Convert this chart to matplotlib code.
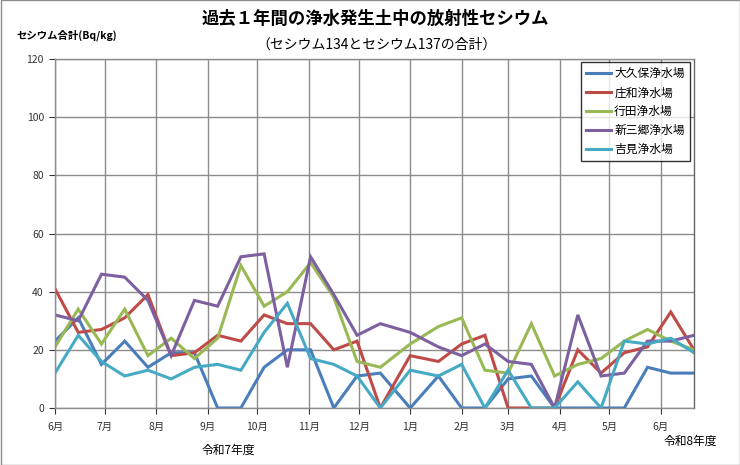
import matplotlib
matplotlib.use("Agg")
import matplotlib.pyplot as plt
import matplotlib.dates as mdates
from matplotlib.patches import Rectangle
import numpy as np
import pandas as pd

plt.rcParams['font.family'] = ['Noto Sans CJK JP', 'DejaVu Sans']

# sampling dates (every ~2 weeks)
dates = pd.to_datetime([
    "2025-06-01", "2025-06-15", "2025-06-29", "2025-07-13", "2025-07-27",
    "2025-08-10", "2025-08-24", "2025-09-07", "2025-09-21", "2025-10-05",
    "2025-10-19", "2025-11-02", "2025-11-16", "2025-11-30", "2025-12-14",
    "2026-01-01", "2026-01-18", "2026-02-01", "2026-02-15", "2026-03-01",
    "2026-03-15", "2026-03-29", "2026-04-12", "2026-04-26", "2026-05-10",
    "2026-05-24", "2026-06-07", "2026-06-21",
])

okubo = [23, 31, 15, 23, 14, 19, 19, 0, 0, 14, 20, 20, 0, 11,
         12, 0, 11, 0, 0, 10, 11, 0, 0, 0, 0, 14, 12, 12]
showa = [41, 26, 27, 31, 39, 18, 19, 25, 23, 32, 29, 29, 20, 23,
         0, 18, 16, 22, 25, 0, 0, 0, 20, 12, 19, 21, 33, 20]
gyoda = [21, 34, 22, 34, 18, 24, 17, 24, 49, 35, 40, 50, 38, 16,
         14, 22, 28, 31, 13, 12, 29, 11, 15, 17, 23, 27, 23, 20]
shinmisato = [32, 30, 46, 45, 37, 18, 37, 35, 52, 53, 14, 52, 39, 25,
              29, 26, 21, 18, 22, 16, 15, 0, 32, 11, 12, 23, 23, 25]
yoshimi = [12, 25, 16, 11, 13, 10, 14, 15, 13, 26, 36, 17, 15, 11,
           0, 13, 11, 15, 0, 13, 0, 0, 9, 0, 23, 22, 24, 19]

names = ["大久保浄水場", "庄和浄水場", "行田浄水場", "新三郷浄水場", "吉見浄水場"]
series = [okubo, showa, gyoda, shinmisato, yoshimi]
colors = ["#4A7EBB", "#BE4B48", "#98B954", "#7D60A0", "#46AAC5"]

month_ticks = pd.date_range("2025-06-01", "2026-06-01", freq="MS")
month_labels = [f"{d.month}月" for d in month_ticks]

fig = plt.figure(figsize=(7.4, 4.65), dpi=100)
ax = fig.add_axes([55/740, 1 - 408/465, (694-55)/740, (408-59)/465])

for vals, name, c in zip(series, names, colors):
    ax.plot(dates, vals, color=c, lw=2.2, label=name, solid_joinstyle="miter")

ax.set_xlim(dates[0], dates[-1])
ax.set_ylim(0, 120)
ax.set_yticks(np.arange(0, 121, 20))
ax.set_xticks(month_ticks)
ax.set_xticklabels(month_labels)
ax.tick_params(axis="both", labelsize=7.5, colors="#333333", length=4, width=0.8)
ax.tick_params(axis="x", pad=6, direction="out")
ax.tick_params(axis="y", pad=4)
ax.grid(True, color="#8c8c8c", lw=1)
ax.set_axisbelow(True)
for s in ax.spines.values():
    s.set_color("#8c8c8c")
    s.set_linewidth(1)
ax.spines["right"].set_color("#666666")

leg = ax.legend(loc="upper right", bbox_to_anchor=((690-55)/639, (408-62)/349),
                fontsize=8.5, frameon=True, fancybox=False, handlelength=2.1,
                borderpad=0.45, labelspacing=0.5, handletextpad=0.3,
                borderaxespad=0)
leg.get_frame().set_edgecolor("black")
leg.get_frame().set_linewidth(1)

fig.text(375/740, 1 - 19/465, "過去１年間の浄水発生土中の放射性セシウム",
         ha="center", va="center", fontsize=12.5, fontweight="bold")
fig.text(376/740, 1 - 45/465, "（セシウム134とセシウム137の合計）",
         ha="center", va="center", fontsize=10)
fig.text(17/740, 1 - 35/465, "セシウム合計(Bq/kg)",
         ha="left", va="center", fontsize=7.5, fontweight="bold")
fig.text(228/740, 1 - 450/465, "令和7年度", ha="center", va="center", fontsize=8.5)
fig.text(690/740, 1 - 441/465, "令和8年度", ha="center", va="center", fontsize=8.5)

fig.patches.append(Rectangle((0.5/740, 0.5/465), 739/740, 464/465,
                             transform=fig.transFigure, fill=False,
                             edgecolor="#8c8c8c", lw=1))

fig.savefig("out.png", dpi=100)
